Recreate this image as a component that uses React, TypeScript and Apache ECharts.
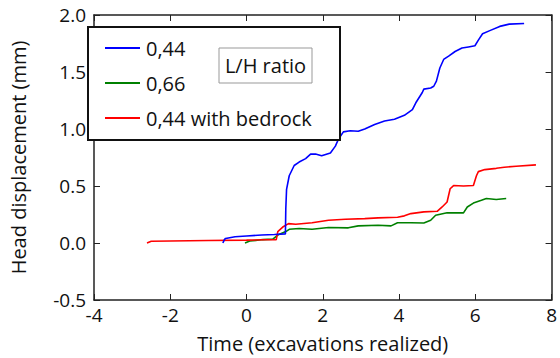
import React, { useEffect, useRef } from "react";
import * as echarts from "echarts";

const seriesNames = ["0,44", "0,66", "0,44 with bedrock"];
const seriesColors = ["#0000ff", "#008000", "#ff0000"];

const blue044: [number, number][] = [
  [-0.62, 0.0], [-0.58, 0.03], [-0.55, 0.04], [-0.3, 0.055], [0.0, 0.062], [0.4, 0.07],
  [0.73, 0.075], [1.02, 0.08], [1.03, 0.3], [1.05, 0.47], [1.12, 0.59], [1.25, 0.68],
  [1.38, 0.71], [1.55, 0.74], [1.68, 0.78], [1.81, 0.78], [1.97, 0.765], [2.2, 0.79],
  [2.33, 0.85], [2.41, 0.91], [2.54, 0.975], [2.72, 0.985], [2.93, 0.98], [3.1, 1.0],
  [3.36, 1.04], [3.62, 1.07], [3.88, 1.085], [4.14, 1.12], [4.35, 1.17], [4.44, 1.23],
  [4.61, 1.32], [4.65, 1.35], [4.83, 1.36], [4.91, 1.375], [4.98, 1.42], [5.07, 1.535],
  [5.17, 1.61], [5.3, 1.64], [5.47, 1.68], [5.65, 1.71], [5.82, 1.72], [5.99, 1.73],
  [6.08, 1.78], [6.19, 1.835], [6.38, 1.863], [6.64, 1.9], [6.89, 1.92], [7.28, 1.925],
];

const green066: [number, number][] = [
  [-0.04, 0.0], [0.085, 0.017], [0.43, 0.03], [0.69, 0.034], [0.82, 0.07], [1.03, 0.1],
  [1.12, 0.12], [1.38, 0.127], [1.72, 0.12], [2.15, 0.136], [2.67, 0.133], [2.93, 0.15],
  [3.45, 0.156], [3.79, 0.15], [3.96, 0.177], [4.31, 0.178], [4.65, 0.175], [4.83, 0.2],
  [4.96, 0.243], [5.26, 0.266], [5.69, 0.264], [5.79, 0.316], [5.95, 0.35], [6.16, 0.374],
  [6.29, 0.39], [6.55, 0.382], [6.81, 0.39],
];

const red044Bedrock: [number, number][] = [
  [-2.61, 0.0], [-2.5, 0.015], [-2.0, 0.018], [-1.0, 0.022], [0.0, 0.025], [0.5, 0.028],
  [0.78, 0.03], [0.82, 0.1], [0.95, 0.14], [1.1, 0.17], [1.29, 0.165], [1.72, 0.177],
  [2.15, 0.2], [2.59, 0.208], [3.1, 0.214], [3.45, 0.22], [3.96, 0.226], [4.14, 0.238],
  [4.31, 0.258], [4.65, 0.273], [5.0, 0.278], [5.13, 0.316], [5.26, 0.36], [5.34, 0.476],
  [5.43, 0.504], [5.69, 0.5], [5.95, 0.505], [6.03, 0.59], [6.08, 0.626], [6.25, 0.644],
  [6.55, 0.655], [6.76, 0.665], [7.07, 0.673], [7.59, 0.685],
];

const xTitle = "Time (excavations realized)";
const yTitle = "Head displacement (mm)";
const legendTitle = "L/H ratio";

const FONT = "'Open Sans', 'DejaVu Sans', sans-serif";
const FRAME = "#222";

export default function App() {
  const ref = useRef<HTMLDivElement>(null);

  useEffect(() => {
    if (!ref.current) return;
    const chart = echarts.init(ref.current, undefined, { renderer: "svg" });
    const frameAxisX = {
      type: "value" as const,
      min: -4,
      max: 8,
      interval: 2,
      splitLine: { show: false },
      axisLine: { show: true, onZero: false, lineStyle: { color: FRAME, width: 1.5 } },
      axisTick: { show: true, inside: true, length: 6, lineStyle: { color: FRAME, width: 1 } },
    };
    const frameAxisY = {
      type: "value" as const,
      min: -0.5,
      max: 2.0,
      interval: 0.5,
      splitLine: { show: false },
      axisLine: { show: true, onZero: false, lineStyle: { color: FRAME, width: 1.5 } },
      axisTick: { show: true, inside: true, length: 6, lineStyle: { color: FRAME, width: 1 } },
    };
    const datasets = [blue044, green066, red044Bedrock];
    chart.setOption({
      animation: false,
      backgroundColor: "#fff",
      textStyle: { fontFamily: FONT },
      grid: { left: 92, right: 4, top: 15, bottom: 56 },
      xAxis: [
        {
          ...frameAxisX,
          position: "bottom",
          name: xTitle,
          nameLocation: "middle",
          nameGap: 33,
          nameTextStyle: { fontFamily: FONT, fontSize: 20, color: "#111" },
          axisLabel: {
            margin: 5,
            fontFamily: FONT,
            fontSize: 19,
            color: "#111",
            formatter: (v: number) => String(v),
          },
        },
        { ...frameAxisX, position: "top", axisLabel: { show: false } },
      ],
      yAxis: [
        {
          ...frameAxisY,
          position: "left",
          name: yTitle,
          nameLocation: "middle",
          nameGap: 66,
          nameTextStyle: { fontFamily: FONT, fontSize: 20, color: "#111" },
          axisLabel: {
            margin: 8,
            fontFamily: FONT,
            fontSize: 19,
            color: "#111",
            formatter: (v: number) => v.toFixed(1),
          },
        },
        { ...frameAxisY, position: "right", axisLabel: { show: false } },
      ],
      legend: {
        show: true,
        orient: "vertical",
        left: 100,
        top: 33,
        icon: "rect",
        itemWidth: 35,
        itemHeight: 2,
        itemGap: 15,
        z: 20,
        data: seriesNames,
        textStyle: {
          fontFamily: FONT,
          fontSize: 20,
          color: "#111",
          lineHeight: 20,
          padding: [0, 0, 0, 1],
        },
      },
      graphic: [
        {
          type: "rect",
          z: 10,
          shape: { x: 88, y: 27, width: 252, height: 113 },
          style: { fill: "#fff", stroke: "#111", lineWidth: 2 },
        },
        {
          type: "rect",
          z: 21,
          shape: { x: 219, y: 48, width: 93, height: 35 },
          style: { fill: "#fff", stroke: "#999", lineWidth: 1 },
        },
        {
          type: "text",
          z: 22,
          x: 265.5,
          y: 65.5,
          style: {
            text: legendTitle,
            fontFamily: FONT,
            fontSize: 20,
            fill: "#111",
            align: "center",
            verticalAlign: "middle",
          },
        },
      ],
      series: datasets.map((d, i) => ({
        type: "line",
        name: seriesNames[i],
        data: d,
        showSymbol: false,
        symbol: "none",
        color: seriesColors[i],
        lineStyle: { color: seriesColors[i], width: 1.6 },
        z: i === 0 ? 4 : 3,
      })),
    });
    return () => chart.dispose();
  }, []);

  return <div ref={ref} style={{ width: 560, height: 358, position: "absolute", left: 0, top: 0 }} />;
}
